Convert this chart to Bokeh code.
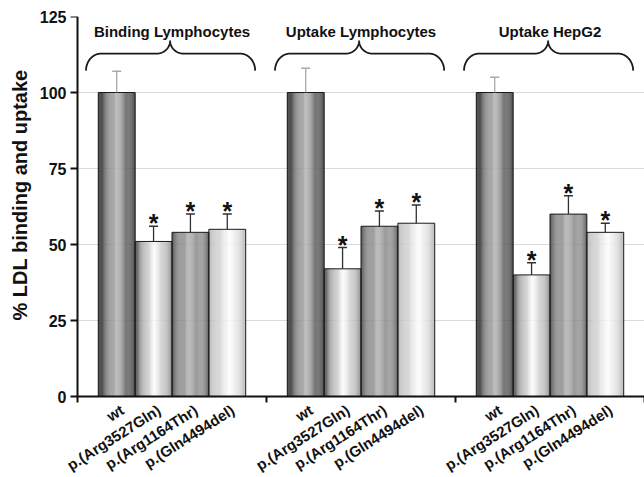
import numpy as np
from bokeh.plotting import figure
from bokeh.models import Range1d, FixedTicker, Title
from bokeh.core.properties import value
from bokeh.embed import file_html
from bokeh.resources import INLINE

# ---------------- data ----------------
groups = ["Binding Lymphocytes", "Uptake Lymphocytes", "Uptake HepG2"]
variants = ["wt", "p.(Arg3527Gln)", "p.(Arg1164Thr)", "p.(Gln4494del)"]

binding_lymph = [100, 51, 54, 55]
binding_lymph_err = [7, 5, 6, 5]
uptake_lymph = [100, 42, 56, 57]
uptake_lymph_err = [8, 7, 5, 6]
uptake_hepg2 = [100, 40, 60, 54]
uptake_hepg2_err = [5, 4, 6, 3]
significant = [False, True, True, True]

y_ticks = [0, 25, 50, 75, 100, 125]

series = [binding_lymph, uptake_lymph, uptake_hepg2]
errors = [binding_lymph_err, uptake_lymph_err, uptake_hepg2_err]

# ---------------- layout / style ----------------
FONT = "Liberation Sans"
W, H = 644, 477
FRAME_LEFT = 66                 # frame starts a little left of the y axis line
AXIS_X, TOP, AXIS_Y = 77, 16, 396
Y_MAX = 125
PX_PER_UNIT = (AXIS_Y - TOP) / Y_MAX
Y_MIN = -(H - AXIS_Y) / PX_PER_UNIT
PX_PER_GROUP = (W - AXIS_X) / 3
X_MIN = -(AXIS_X - FRAME_LEFT) / PX_PER_GROUP
BAR_W = 0.195
profiles = [
    [(0.0, 0x28), (0.12, 0x55), (0.48, 0xb8), (0.8, 0x6a), (1.0, 0x30)],
    [(0.0, 0x50), (0.15, 0x98), (0.52, 0xfd), (0.85, 0xb8), (1.0, 0x88)],
    [(0.0, 0x5c), (0.42, 0xae), (0.85, 0x88), (1.0, 0x6c)],
    [(0.0, 0xb4), (0.58, 0xfd), (0.9, 0xd0), (1.0, 0xb8)],
]
err_colors = ["#a8a8a8", "#303030", "#303030", "#303030"]
N_STRIPS = 40
INK = "#111111"

p = figure(width=W, height=H, output_backend="svg", toolbar_location=None,
           x_range=Range1d(X_MIN, 3), y_range=Range1d(Y_MIN, Y_MAX),
           x_axis_location=None,
           min_border_left=FRAME_LEFT, min_border_top=TOP, min_border_right=0,
           min_border_bottom=0)
p.outline_line_color = None
p.xgrid.grid_line_color = None
p.ygrid.grid_line_color = "#dadada"
p.ygrid.grid_line_width = 1

# keep the grid lines from running left of the y axis line
p.quad(left=X_MIN, right=0, bottom=Y_MIN, top=Y_MAX, fill_color="white",
       line_color=None)

sl, sr, st, sc = [], [], [], []
bx, bv, be, bec, sig = [], [], [], [], []
for g in range(3):
    for j in range(4):
        xc = g + 0.5 + (j - 1.5) * BAR_W
        left = xc - BAR_W / 2
        pos = np.array([s[0] for s in profiles[j]])
        lev = np.array([s[1] for s in profiles[j]])
        for k in range(N_STRIPS):
            t0 = k / N_STRIPS
            t1 = (k + 1) / N_STRIPS
            gl = int(round(np.interp((t0 + t1) / 2, pos, lev)))
            sl.append(left + t0 * BAR_W)
            sr.append(left + t1 * BAR_W + 0.0005)
            st.append(series[g][j])
            sc.append("#%02x%02x%02x" % (gl, gl, gl))
        bx.append(xc)
        bv.append(series[g][j])
        be.append(series[g][j] + errors[g][j])
        bec.append(err_colors[j])
        sig.append(significant[j])

p.quad(left=sl, right=sr, bottom=0, top=st, fill_color=sc, line_color=None)
p.quad(left=[x - BAR_W / 2 for x in bx], right=[x + BAR_W / 2 for x in bx],
       bottom=0, top=bv, fill_alpha=0, line_color="#1a1a1a", line_width=1)

# error bars (upper only)
p.segment(x0=bx, y0=bv, x1=bx, y1=be, line_color=bec, line_width=1.3)
p.dash(x=bx, y=be, size=9, line_color=bec, line_width=1.5)

# significance asterisks
ax = [x for x, s in zip(bx, sig) if s]
ay = [y for y, s in zip(be, sig) if s]
p.text(x=ax, y=ay, text=["*"] * len(ax), text_font=value(FONT),
       text_font_style="bold", text_font_size="25px", text_align="center",
       text_baseline="alphabetic", y_offset=-3, text_color=INK)

# braces + group titles
y_end, y_line, y_peak = 107.2, 112.8, 117.1
xs_list, ys_list = [], []
t = np.linspace(0, np.pi / 2, 20)
for g in range(3):
    xl, xr, xm = g + 0.045, g + 0.94, g + 0.49
    dx1, dx2 = 0.08, 0.07
    x1 = xl + dx1 * (1 - np.cos(t)); y1 = y_end + (y_line - y_end) * np.sin(t)
    x2 = xm - dx2 + dx2 * np.sin(t); y2 = y_line + (y_peak - y_line) * (1 - np.cos(t))
    x3 = xm + dx2 - dx2 * np.sin(t[::-1]); y3 = y_line + (y_peak - y_line) * (1 - np.cos(t[::-1]))
    x4 = xr - dx1 * (1 - np.cos(t[::-1])); y4 = y_end + (y_line - y_end) * np.sin(t[::-1])
    xs_list.append(list(np.concatenate([x1, x2, x3, x4])))
    ys_list.append(list(np.concatenate([y1, y2, y3, y4])))
p.multi_line(xs=xs_list, ys=ys_list, line_color="#1a1a1a", line_width=1.8)
p.text(x=[g + 0.5 for g in range(3)], y=[120.2] * 3, text=groups,
       text_font=value(FONT), text_font_style="bold", text_font_size="15px",
       text_align="center", text_baseline="middle", text_color=INK)

# axis lines and tick marks at x = 0 / y = 0
gx = [0, 1, 2, 3]
p.segment(x0=0, y0=0, x1=3, y1=0, line_color=INK, line_width=2)
p.segment(x0=gx, y0=0, x1=gx, y1=-6 / PX_PER_UNIT, line_color=INK,
          line_width=2)
p.segment(x0=0, y0=0, x1=0, y1=Y_MAX, line_color=INK, line_width=2)
p.segment(x0=0, y0=y_ticks, x1=-7 / PX_PER_GROUP, y1=y_ticks, line_color=INK,
          line_width=2)

# rotated category labels
p.text(x=bx, y=0, text=[variants[i % 4] for i in range(len(bx))],
       angle=0.567, text_align="right", text_baseline="middle",
       x_offset=5.5, y_offset=12, text_font=value(FONT),
       text_font_style="bold", text_font_size="15px", text_color=INK)

# y axis: tick labels from the axis, line/ticks drawn above at x = 0
ya = p.yaxis[0]
ya.ticker = FixedTicker(ticks=y_ticks)
ya.major_label_text_font = FONT
ya.major_label_text_font_style = "bold"
ya.major_label_text_font_size = "16px"
ya.major_label_text_color = INK
ya.major_label_standoff = 0
ya.axis_line_color = None
ya.major_tick_line_color = None
ya.major_tick_out = 0
ya.major_tick_in = 0
ya.minor_tick_line_color = None

p.add_layout(Title(text="% LDL binding and uptake", align="left", offset=157,
                   text_font=FONT, text_font_style="bold",
                   text_font_size="20px", standoff=12,
                   text_color=INK), "left")

open("out.html", "w").write(file_html(p, INLINE))
